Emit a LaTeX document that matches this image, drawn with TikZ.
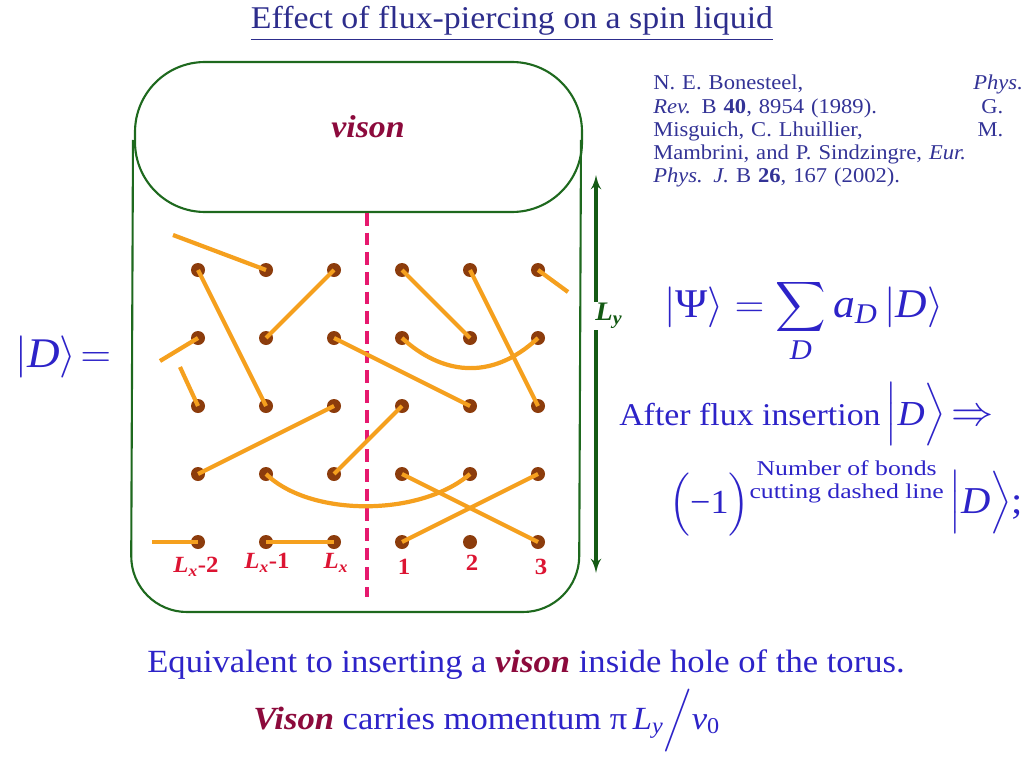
\RequirePackage{fix-cm}
\documentclass[tikz,border=0pt]{standalone}
\usepackage{amsmath}
\usepackage{fontspec}
\setmainfont[FakeStretch=1.07]{Liberation Serif}
\newfontfamily\widefont[FakeStretch=1.22]{Liberation Serif}
\usetikzlibrary{arrows,positioning,calc}

\definecolor{framegreen}{RGB}{30,105,30}
\definecolor{arrowgreen}{RGB}{20,90,20}
\definecolor{bondorange}{RGB}{245,160,30}
\definecolor{sitebrown}{RGB}{140,60,12}
\definecolor{cutpink}{RGB}{230,25,110}
\definecolor{labred}{RGB}{220,20,50}
\definecolor{visonred}{RGB}{140,10,60}
\definecolor{refblue}{RGB}{51,51,150}
\definecolor{eqblue}{RGB}{45,35,200}
\definecolor{titleblue}{RGB}{45,45,140}

% ket with bars of a given size
\newcommand{\sizedket}[2]{{\fontsize{#1}{#1}\selectfont$\bigl|$}#2{\fontsize{#1}{#1}\selectfont$\bigr\rangle$}}

\tikzstyle{bond} = [draw=bondorange, line width=3pt]
\tikzstyle{site} = [circle, fill=sitebrown, minimum size=0.35cm, inner sep=0pt]
\tikzstyle{sitelab} = [text=labred, inner sep=0pt, font=\fontsize{16.5}{18}\selectfont\bfseries]
\tikzstyle{frame} = [draw=framegreen, line width=1.5pt]

\begin{document}
\begin{tikzpicture}[x=0.025cm, y=-0.025cm]
    \useasboundingbox (0,0) rectangle (1024,768);

    \node [anchor=base, text=titleblue, font=\fontsize{22.5}{24}\selectfont] (title) at (512,29)
        {\underline{Effect of flux-piercing on a spin liquid}};

    % torus: hole on top, lattice below
    \draw [frame, rounded corners=1.75cm] (135,62) rectangle (582,212);
    \draw [frame, rounded corners=1.4cm] (133,140) -- (131,612) -- (579,612) -- (581,140);
    \node [text=visonred, font=\fontsize{22.5}{26}\selectfont\bfseries\itshape] (visonlab) at (368,127) {vison};

    % cut
    \coordinate (cuttop) at (367,213);
    \coordinate (cutbot) at (367,597);
    \draw [cutpink, line width=2.6pt, dash pattern=on 9pt off 5pt] (cuttop) -- (cutbot);

    % sites
    \foreach \i in {1,...,6}
        \foreach \j in {1,...,5}
            \node [site] (s-\i-\j) at ({198+68*(\i-1)}, {270+68*(\j-1)}) {};

    % dimers
    \foreach \a/\b in {1-1/2-3, 3-1/2-2, 4-1/5-2, 5-1/6-3, 3-2/5-3, 3-3/1-4, 4-3/3-4,
                       4-4/6-5, 6-4/4-5, 2-5/3-5}
        \path [bond] (s-\a.center) -- (s-\b.center);
    \path [bond] (s-4-2.center) .. controls (440,373) and (490,383) .. (s-6-2.center);
    \path [bond] (s-2-4.center) .. controls (310,517) and (420,517) .. (s-5-4.center);

    % dimers wrapping round the torus
    \coordinate (w1) at (173,235);
    \coordinate (w2) at (568,292);
    \coordinate (w3) at (160,361);
    \coordinate (w4) at (180,367);
    \coordinate (w5) at (152,542);
    \path [bond] (w1) -- (s-2-1.center);
    \path [bond] (w2) -- (s-6-1.center);
    \path [bond] (w3) -- (s-1-2.center);
    \path [bond] (w4) -- (s-1-3.center);
    \path [bond] (w5) -- (s-1-5.center);

    \node [sitelab] (lab-1) at (196,567) {\textit{L}\textsubscript{\textit{x}}-2};
    \node [sitelab] (lab-2) at (267,563) {\textit{L}\textsubscript{\textit{x}}-1};
    \node [sitelab] (lab-3) at (336,563) {\textit{L}\textsubscript{\textit{x}}};
    \node [sitelab] (lab-4) at (404,567) {1};
    \node [sitelab] (lab-5) at (472,563) {2};
    \node [sitelab] (lab-6) at (541,567) {3};

    % L_y
    \coordinate (lytop) at (596,175);
    \coordinate (lybot) at (596,573);
    \draw [arrowgreen, line width=2.5pt, latex'-latex'] (lytop) -- (lybot);
    \node [fill=white, text=arrowgreen, inner sep=1pt, font=\fontsize{19}{20}\selectfont\bfseries] (ly) at (609,316)
        {\textit{L}\textsubscript{\textit{y}}};

    \node [anchor=base west, inner sep=0pt, text=eqblue, font=\fontsize{30}{34}\selectfont] (dstate) at (15,367)
        {$|\textit{D}\rangle\!=$};

    \node [anchor=base west, inner sep=0pt, text=refblue, text width=8.75cm, align=left,
           font=\fontsize{15}{16.4}\selectfont] (refs) at (653,90)
        {N. E. Bonesteel,\hfill\makebox[0.75cm][l]{\textit{Phys.}}\\
         \textit{Rev.} B \textbf{40}, 8954 (1989).\hfill G.\\
         Misguich, C. Lhuillier,\hfill M.\\
         Mambrini, and P. Sindzingre, \textit{Eur.}\\
         \textit{Phys. J.} B \textbf{26}, 167 (2002).};

    \node [anchor=base west, inner sep=0pt, text=eqblue, font=\fontsize{29}{34}\selectfont] (psi) at (664,317)
        {$|\textnormal{Ψ}\rangle = \displaystyle\sum_{\textit{D}} \textit{a}_{\textit{D}}\,|\textit{D}\rangle$};

    \node [anchor=base west, inner sep=0pt, text=eqblue, font=\fontsize{22.5}{26}\selectfont] (after) at (619,425)
        {After flux insertion\,{\fontsize{25}{28}\selectfont\sizedket{30}{\textit{D}}}\,{\fontsize{30}{30}\selectfont$\Rightarrow$}};

    \node [anchor=base west, inner sep=0pt, text=eqblue, font=\fontsize{24}{28}\selectfont] (sign) at (669,513)
        {$\Bigl($−1$\Bigr)$\raisebox{10pt}{\widefont\fontsize{15}{16.5}\selectfont
          \begin{tabular}[b]{@{}c@{}}Number of bonds\\cutting dashed line\end{tabular}}%
         \,{\fontsize{27}{30}\selectfont\sizedket{30}{\textit{D}};}};

    \node [anchor=base, text=eqblue, font=\fontsize{23}{26}\selectfont] (equiv) at (526,672)
        {Equivalent to inserting a \textcolor{visonred}{\textbf{\textit{vison}}} inside hole of the torus.};
    \node [anchor=base west, inner sep=0pt, text=eqblue, font=\fontsize{23}{26}\selectfont] (momentum) at (253,729)
        {\textcolor{visonred}{\textbf{\textit{Vison}}} carries momentum $\textnormal{π}\,\textit{L}_{\textit{y}}\Big/\textit{v}_{\textnormal{0}}$};
\end{tikzpicture}
\end{document}
